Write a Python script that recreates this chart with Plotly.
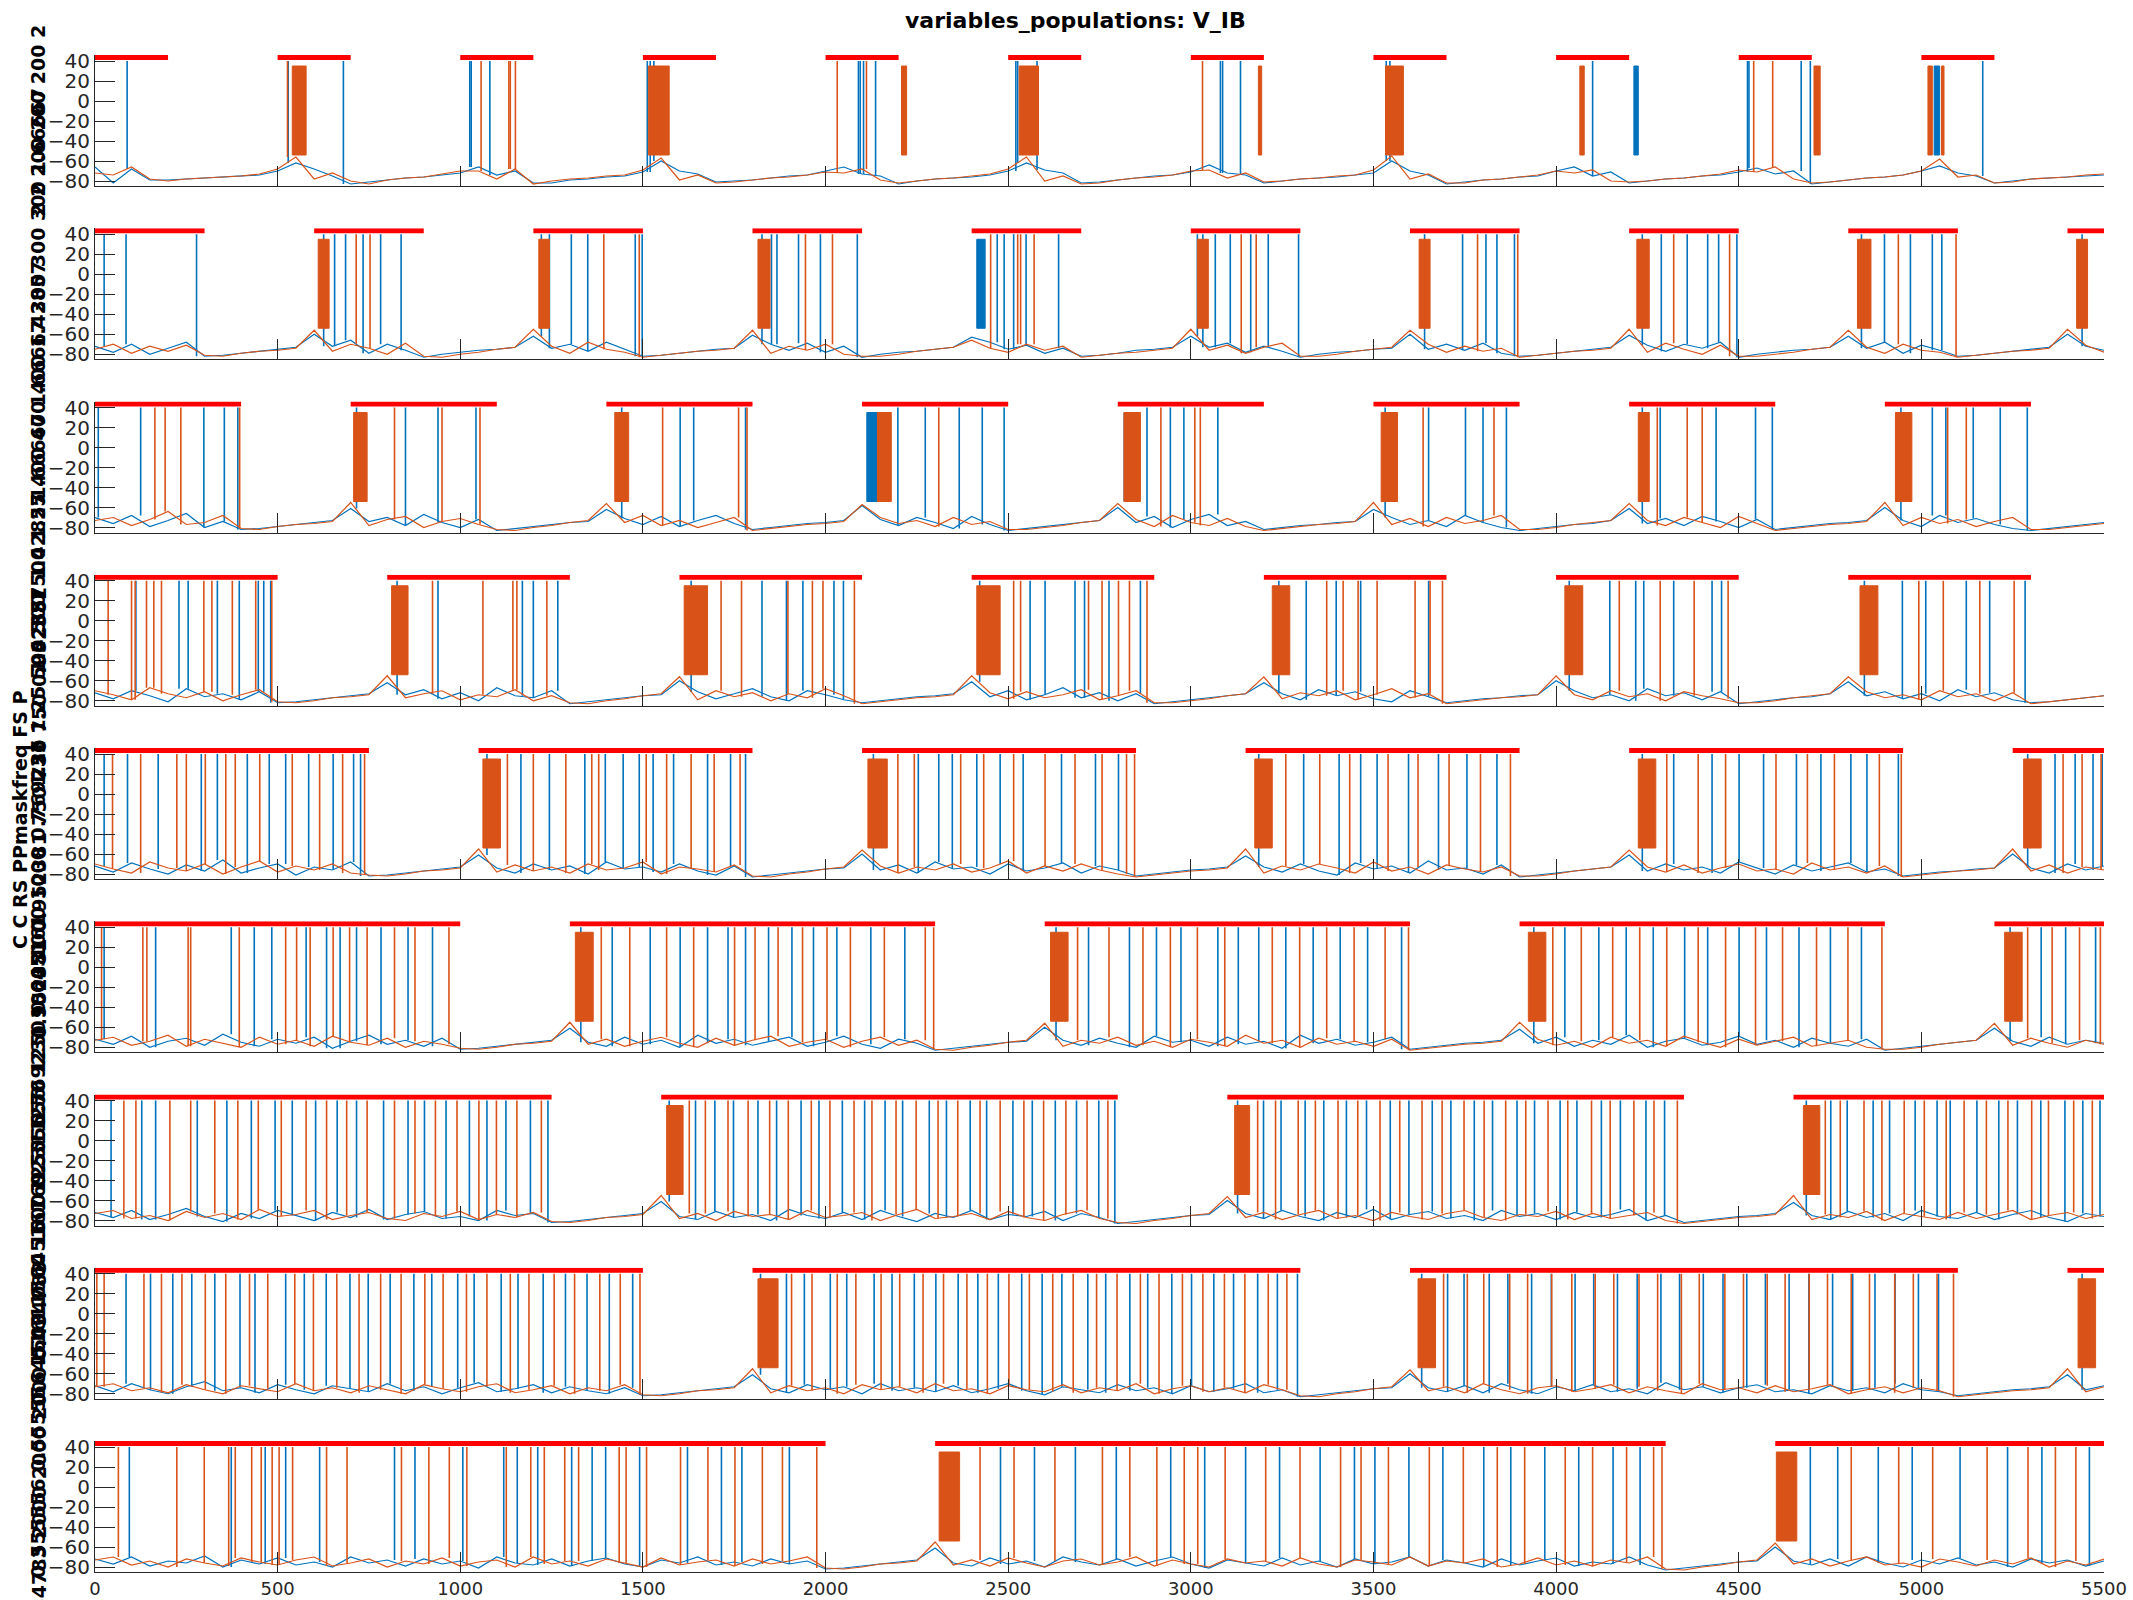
import plotly.graph_objects as go

# ---------------- data ----------------
STEP = 50            # sampling step of the baseline readings (ms)
T_MAX = 5500
SPIKE_PEAK = 40
BURST_LOW = -54
BURST_HIGH = 35
MASK_LEVEL = 43.5

X_TICKS = [0, 500, 1000, 1500, 2000, 2500, 3000, 3500, 4000, 4500, 5000, 5500]
Y_TICKS = [-80, -60, -40, -20, 0, 20, 40]

MASK_STARTS = [
    [0, 500, 1000, 1500, 2000, 2500, 3000, 3500, 4000, 4500, 5000],
    [0, 600, 1200, 1800, 2400, 3000, 3600, 4200, 4800, 5400],
    [0, 700, 1400, 2100, 2800, 3500, 4200, 4900],
    [0, 800, 1600, 2400, 3200, 4000, 4800],
    [0, 1050, 2100, 3150, 4200, 5250],
    [0, 1300, 2600, 3900, 5200],
    [0, 1550, 3100, 4650],
    [0, 1800, 3600, 5400],
    [0, 2300, 4600],
]
MASK_WIDTH = [200, 300, 400, 500, 750, 1000, 1250, 1500, 2000]

YLABEL_NAMES = "C C RS PPmaskfreq FS P"
YLABEL_VALUES = [
    "2 2 200 200 200 2",
    "1.66667 1.66667 300 300 300 1.66667",
    "1.42857 1.42857 400 400 400 1.42857",
    "1.25 1.25 500 500 500 1.25",
    "0.952381 0.952381 750 750 750 0.952381",
    "0.769231 0.769231 1000 1000 1000 0.769231",
    "0.645161 0.645161 1250 1250 1250 0.645161",
    "0.555556 0.555556 1500 1500 1500 0.555556",
    "0.434783 0.434783 2000 2000 2000 0.434783",
]

# baseline readings every 50 ms (t = 0 ... 5500)
BLUE_BASE_1 = [-66, -82, -68, -79, -79, -78, -77, -76, -75, -74,
               -70, -62, -68, -75, -83, -81, -79, -77, -76, -74,
               -72, -66, -74, -70, -82, -82, -79, -78, -76, -75,
               -71, -60, -70, -73, -81, -80, -79, -77, -75, -74,
               -70, -66, -73, -75, -83, -80, -78, -77, -76, -74,
               -70, -62, -69, -72, -82, -81, -79, -77, -75, -74,
               -71, -64, -72, -74, -82, -80, -78, -77, -76, -74,
               -72, -60, -70, -74, -83, -81, -79, -78, -76, -75,
               -70, -66, -75, -71, -82, -80, -78, -77, -75, -74,
               -71, -67, -73, -70, -83, -81, -79, -77, -76, -74,
               -70, -65, -72, -75, -82, -80, -78, -77, -76, -75, -74]
ORANGE_BASE_1 = [-72, -74, -66, -78, -80, -78, -77, -76, -75, -73,
                 -68, -56, -78, -72, -80, -83, -79, -77, -76, -73,
                 -70, -70, -78, -68, -83, -80, -78, -77, -75, -74,
                 -69, -57, -79, -74, -82, -81, -79, -77, -76, -74,
                 -71, -72, -68, -79, -82, -80, -78, -77, -75, -73,
                 -68, -56, -80, -75, -83, -82, -79, -77, -76, -74,
                 -70, -69, -77, -72, -81, -80, -78, -77, -75, -74,
                 -69, -55, -78, -73, -82, -82, -79, -78, -76, -74,
                 -70, -72, -69, -80, -81, -80, -78, -77, -75, -73,
                 -69, -71, -66, -78, -82, -81, -79, -77, -76, -74,
                 -70, -58, -76, -74, -82, -81, -78, -77, -76, -74, -73]

BLUE_BASE_2 = [-72, -78, -70, -80, -74, -68, -82, -81, -79, -77, -75, -73,
               -60, -72, -66, -79, -70, -76, -83, -80, -78, -76, -75, -73,
               -62, -74, -70, -77, -68, -75, -82, -81, -79, -77, -75, -74,
               -61, -70, -76, -69, -78, -72, -83, -80, -78, -77, -75, -73,
               -63, -68, -75, -71, -79, -74, -82, -81, -79, -76, -75, -73,
               -62, -73, -69, -78, -72, -77, -83, -80, -78, -77, -75, -74,
               -60, -75, -70, -76, -69, -79, -82, -81, -79, -77, -75, -73,
               -61, -71, -77, -70, -74, -68, -83, -80, -78, -76, -75, -73,
               -62, -74, -68, -79, -71, -76, -82, -81, -79, -77, -75, -73,
               -60, -72, -76]
ORANGE_BASE_2 = [-75, -70, -79, -72, -77, -71, -81, -82, -79, -77, -76, -74,
                 -56, -77, -70, -74, -80, -69, -82, -83, -80, -78, -75, -73,
                 -55, -72, -79, -68, -75, -78, -83, -81, -79, -77, -76, -74,
                 -56, -79, -72, -76, -70, -80, -82, -82, -80, -77, -75, -73,
                 -66, -74, -78, -70, -76, -72, -83, -81, -79, -78, -76, -74,
                 -55, -76, -71, -79, -73, -69, -82, -82, -80, -77, -75, -73,
                 -56, -70, -78, -72, -77, -74, -83, -81, -79, -77, -76, -74,
                 -55, -78, -69, -75, -80, -71, -82, -82, -80, -78, -75, -73,
                 -56, -73, -79, -70, -76, -78, -83, -81, -79, -77, -76, -74,
                 -55, -71, -78]

BLUE_BASE_3 = [-70, -76, -68, -79, -73, -66, -80, -74, -82, -81, -79, -77, -75, -73,
               -61, -74, -70, -78, -67, -75, -80, -72, -83, -81, -79, -77, -75, -74,
               -62, -71, -77, -69, -79, -73, -68, -76, -82, -80, -78, -76, -75, -73,
               -58, -72, -78, -70, -75, -81, -69, -77, -83, -81, -79, -77, -75, -73,
               -60, -75, -69, -80, -72, -67, -78, -74, -82, -80, -78, -77, -75, -74,
               -62, -70, -77, -73, -79, -68, -75, -80, -83, -81, -79, -77, -76, -73,
               -61, -76, -71, -78, -69, -74, -80, -72, -82, -80, -78, -76, -75, -73,
               -60, -73, -79, -68, -75, -71, -77, -81, -83, -81, -79, -77, -75]
ORANGE_BASE_3 = [-73, -70, -78, -72, -64, -77, -75, -68, -81, -82, -79, -77, -76, -74,
                 -55, -78, -72, -69, -80, -74, -71, -77, -82, -83, -80, -78, -75, -73,
                 -56, -75, -68, -78, -73, -80, -75, -70, -83, -81, -79, -77, -76, -74,
                 -57, -70, -76, -73, -79, -70, -77, -74, -82, -82, -80, -78, -75, -73,
                 -56, -72, -79, -68, -75, -78, -71, -79, -83, -81, -79, -77, -76, -74,
                 -55, -77, -71, -79, -70, -76, -73, -68, -82, -82, -80, -77, -75, -73,
                 -56, -73, -78, -70, -75, -80, -69, -76, -83, -81, -79, -77, -76, -74,
                 -55, -78, -70, -76, -72, -79, -74, -70, -82, -82, -80, -78, -76]

BLUE_BASE_4 = [-72, -78, -70, -75, -81, -68, -76, -73, -79, -71, -82, -81, -79, -77, -75, -73,
               -62, -74, -69, -78, -72, -80, -67, -75, -77, -70, -83, -81, -79, -77, -75, -74,
               -60, -71, -78, -73, -68, -76, -80, -70, -74, -79, -82, -80, -78, -76, -75, -73,
               -61, -76, -70, -79, -74, -67, -77, -72, -80, -73, -83, -81, -79, -77, -75, -73,
               -62, -73, -79, -69, -75, -71, -78, -81, -70, -76, -82, -80, -78, -77, -75, -74,
               -60, -70, -77, -74, -80, -68, -75, -72, -79, -71, -83, -81, -79, -77, -76, -73,
               -61, -75, -71, -78, -73, -80, -69, -76, -72, -79, -82, -81, -79, -77, -75]
ORANGE_BASE_4 = [-70, -74, -79, -67, -73, -77, -71, -80, -74, -69, -81, -82, -80, -77, -76, -74,
                 -55, -77, -73, -70, -79, -74, -76, -69, -80, -75, -82, -83, -80, -78, -75, -73,
                 -56, -79, -70, -76, -72, -80, -73, -77, -68, -75, -83, -81, -79, -77, -76, -74,
                 -55, -72, -78, -71, -77, -74, -69, -79, -75, -70, -82, -82, -80, -78, -75, -73,
                 -56, -78, -72, -75, -70, -79, -74, -68, -77, -73, -83, -81, -79, -77, -76, -74,
                 -55, -74, -79, -70, -76, -73, -80, -71, -75, -78, -82, -82, -80, -77, -75, -73,
                 -56, -71, -77, -74, -79, -70, -76, -73, -80, -72, -83, -81, -79, -77, -75]

BLUE_BASE_5 = [-72, -78, -69, -75, -80, -71, -77, -66, -79, -74, -70, -81, -73, -76, -68, -82, -81, -79, -77, -75, -73,
               -61, -74, -79, -70, -76, -72, -80, -68, -75, -73, -78, -70, -77, -81, -72, -83, -81, -79, -77, -75, -74,
               -60, -76, -71, -79, -68, -75, -73, -80, -70, -77, -74, -69, -79, -72, -76, -82, -80, -78, -76, -75, -73,
               -62, -73, -78, -70, -77, -81, -69, -75, -72, -79, -67, -76, -74, -80, -71, -83, -81, -79, -77, -75, -73,
               -61, -77, -70, -76, -73, -79, -68, -74, -80, -71, -77, -73, -69, -78, -75, -82, -80, -78, -77, -75, -74,
               -60, -74, -79, -70, -76, -72]
ORANGE_BASE_5 = [-70, -75, -79, -68, -74, -77, -70, -80, -73, -67, -78, -72, -76, -70, -79, -81, -82, -80, -77, -76, -74,
                 -55, -78, -71, -77, -73, -79, -70, -76, -74, -68, -80, -73, -75, -78, -71, -82, -83, -80, -78, -75, -73,
                 -56, -72, -79, -73, -76, -70, -78, -74, -67, -79, -72, -77, -70, -76, -80, -83, -81, -79, -77, -76, -74,
                 -55, -79, -72, -76, -70, -74, -79, -68, -77, -73, -80, -71, -75, -78, -73, -82, -82, -80, -77, -75, -73,
                 -56, -73, -78, -71, -79, -74, -70, -77, -75, -80, -69, -76, -73, -79, -72, -83, -81, -79, -77, -76, -74,
                 -55, -77, -71, -79, -73, -76]

BLUE_BASE_6 = [-72, -77, -69, -80, -74, -71, -78, -67, -75, -79, -72, -76, -70, -81, -74, -68, -77, -73, -79, -71, -82, -81, -79, -77, -75, -73,
               -61, -75, -79, -70, -77, -73, -80, -68, -76, -72, -78, -74, -70, -79, -75, -69, -77, -81, -72, -76, -83, -81, -79, -77, -75, -74,
               -60, -73, -78, -71, -76, -80, -69, -75, -73, -79, -70, -77, -74, -81, -68, -76, -72, -78, -75, -70, -82, -80, -78, -76, -75, -73,
               -62, -76, -70, -79, -73, -77, -68, -80, -74, -71, -78, -75, -69, -77, -73, -80, -71, -76, -79, -72, -83, -81, -79, -77, -75, -73,
               -61, -74, -79, -70, -77, -73, -76]
ORANGE_BASE_6 = [-73, -70, -78, -74, -68, -79, -72, -76, -80, -70, -77, -73, -79, -69, -75, -78, -71, -80, -74, -77, -81, -82, -80, -77, -76, -74,
                 -55, -77, -72, -79, -74, -70, -76, -80, -71, -78, -73, -69, -79, -75, -72, -80, -74, -70, -78, -73, -82, -83, -80, -78, -75, -73,
                 -56, -79, -73, -76, -70, -78, -74, -80, -72, -75, -79, -68, -76, -73, -80, -71, -77, -74, -79, -72, -83, -81, -79, -77, -76, -74,
                 -55, -72, -78, -74, -80, -70, -76, -73, -79, -69, -75, -80, -72, -78, -74, -70, -79, -76, -73, -80, -82, -82, -80, -77, -75, -73,
                 -56, -78, -71, -76, -80, -73, -77]

BLUE_BASE_7 = [-72, -77, -70, -79, -74, -68, -76, -81, -73, -78, -70, -75, -80, -72, -77, -69, -79, -74, -71, -78, -76, -80, -70, -75, -73, -82, -81, -79, -77, -75, -73,
               -61, -76, -79, -71, -77, -74, -80, -69, -75, -78, -72, -79, -70, -76, -81, -73, -77, -70, -79, -74, -76, -71, -80, -73, -77, -83, -81, -79, -77, -75, -74,
               -60, -73, -78, -70, -76, -80, -72, -77, -69, -79, -74, -71, -78, -75, -80, -70, -76, -73, -79, -72, -77, -74, -69, -80, -75, -82, -80, -78, -76, -75, -73,
               -62, -75, -79, -71, -77, -73, -80, -70, -76, -78, -72, -79, -74, -70, -77, -81, -73, -76]
ORANGE_BASE_7 = [-73, -70, -78, -75, -80, -71, -77, -73, -79, -69, -76, -74, -70, -79, -75, -72, -78, -80, -73, -76, -71, -79, -74, -77, -72, -81, -82, -80, -77, -76, -74,
                 -55, -78, -73, -80, -71, -76, -74, -79, -70, -77, -75, -72, -80, -74, -69, -78, -76, -73, -79, -71, -77, -80, -74, -70, -78, -82, -83, -80, -78, -75, -73,
                 -56, -77, -72, -79, -74, -70, -78, -75, -80, -72, -76, -79, -73, -70, -77, -80, -74, -76, -71, -79, -73, -78, -75, -72, -80, -83, -81, -79, -77, -76, -74,
                 -55, -79, -74, -77, -71, -80, -73, -76, -79, -72, -78, -74, -70, -79, -75, -72, -78, -74]

BLUE_BASE_8 = [-72, -78, -70, -76, -80, -73, -68, -77, -74, -79, -71, -76, -80, -72, -75, -78, -70, -77, -73, -80, -74, -69, -78, -75, -71, -79, -73, -77, -80, -74, -82, -81, -79, -77, -75, -73,
               -61, -75, -79, -71, -76, -73, -80, -70, -77, -74, -78, -72, -79, -75, -70, -77, -81, -73, -76, -79, -71, -77, -74, -80, -72, -78, -75, -70, -79, -76, -83, -81, -79, -77, -75, -74,
               -60, -74, -78, -72, -79, -70, -76, -80, -73, -77, -71, -78, -75, -80, -69, -76, -73, -79, -74, -71, -78, -76, -80, -72, -77, -74, -79, -70, -76, -78, -82, -80, -78, -76, -75, -73,
               -61, -76, -72]
ORANGE_BASE_8 = [-73, -70, -77, -74, -79, -71, -76, -80, -72, -75, -78, -70, -77, -74, -79, -72, -76, -80, -71, -75, -78, -73, -70, -79, -76, -72, -80, -74, -77, -71, -81, -82, -80, -77, -76, -74,
                 -55, -79, -72, -77, -74, -80, -71, -76, -73, -79, -70, -77, -75, -80, -72, -76, -78, -71, -79, -74, -77, -70, -80, -75, -72, -78, -74, -79, -71, -76, -82, -83, -80, -78, -75, -73,
                 -56, -77, -73, -79, -70, -76, -80, -74, -72, -78, -75, -71, -79, -73, -77, -80, -70, -76, -74, -79, -72, -78, -75, -71, -80, -76, -73, -79, -74, -77, -83, -81, -79, -77, -76, -74,
                 -55, -78, -73]

BLUE_BASE_9 = [-72, -77, -70, -79, -74, -76, -69, -80, -73, -77, -71, -78, -75, -80, -70, -76, -73, -79, -72, -77, -74, -81, -70, -76, -78, -72, -79, -74, -71, -77, -80, -73, -76, -70, -78, -75, -79, -72, -77, -74, -82, -81, -79, -77, -75, -73,
               -61, -76, -79, -71, -77, -74, -80, -70, -75, -78, -72, -79, -74, -70, -77, -81, -73, -76, -79, -71, -78, -74, -80, -72, -77, -75, -70, -79, -73, -76, -80, -72, -78, -74, -71, -79, -75, -77, -70, -78, -83, -81, -79, -77, -75, -74,
               -60, -74, -78, -72, -79, -70, -76, -80, -73, -77, -71, -78, -75, -80, -72, -76, -73, -79, -74]
ORANGE_BASE_9 = [-73, -70, -78, -74, -80, -72, -76, -79, -71, -75, -78, -73, -70, -79, -76, -72, -80, -74, -77, -71, -79, -75, -73, -80, -70, -77, -74, -79, -72, -76, -80, -71, -78, -75, -73, -79, -72, -77, -74, -70, -81, -82, -80, -77, -76, -74,
                 -55, -78, -73, -79, -71, -76, -80, -74, -72, -78, -75, -70, -79, -73, -77, -80, -72, -76, -74, -79, -71, -77, -80, -73, -75, -78, -70, -79, -74, -76, -72, -80, -77, -71, -78, -74, -79, -73, -76, -70, -82, -83, -80, -78, -75, -73,
                 -56, -77, -72, -79, -74, -70, -78, -76, -80, -72, -75, -79, -73, -77, -71, -80, -74, -78, -72]

BLUE_BASE = [BLUE_BASE_1, BLUE_BASE_2, BLUE_BASE_3, BLUE_BASE_4, BLUE_BASE_5,
             BLUE_BASE_6, BLUE_BASE_7, BLUE_BASE_8, BLUE_BASE_9]
ORANGE_BASE = [ORANGE_BASE_1, ORANGE_BASE_2, ORANGE_BASE_3, ORANGE_BASE_4, ORANGE_BASE_5,
               ORANGE_BASE_6, ORANGE_BASE_7, ORANGE_BASE_8, ORANGE_BASE_9]

# spike times (ms)
BLUE_SPIKES = [
    [88, 529, 680, 1026, 1030, 1081, 1512, 1520, 1530, 2090, 2095, 2104, 2137, 2521, 2526, 2579,
     3081, 3087, 3136, 3535, 3545, 4100, 4524, 4528, 4671, 4696, 5168],
    [25, 85, 278, 626, 656, 686, 734, 782, 838, 1222, 1244, 1304, 1349, 1479, 1498, 1826, 1852, 1867,
     1926, 1986, 2087, 2470, 2489, 2515, 2549, 2638, 3018, 3033, 3067, 3108, 3164, 3212, 3295, 3640,
     3744, 3808, 3838, 3886, 4236, 4288, 4359, 4415, 4445, 4495, 4836, 4899, 4970, 5030, 5056, 5440],
    [9, 125, 298, 354, 391, 716, 850, 939, 1043, 1442, 1602, 1639, 1781, 2198, 2273, 2366, 2429, 2489,
     2880, 2944, 2981, 3074, 3532, 3651, 3752, 3800, 3864, 4236, 4285, 4438, 4546, 4592, 4944, 5030,
     5067, 5142, 5216, 5290],
    [112, 230, 255, 335, 395, 447, 462, 481, 827, 939, 1170, 1200, 1267, 1632, 1826, 1893, 1938, 2023,
     2049, 2422, 2560, 2601, 2683, 2709, 2776, 2862, 3241, 3316, 3398, 3465, 3651, 4036, 4147, 4218,
     4240, 4322, 4427, 4453, 4844, 4948, 5012, 5123, 5187, 5284],
    [25, 89, 173, 291, 335, 417, 477, 522, 585, 652, 708, 727, 1073, 1166, 1244, 1341, 1397, 1446,
     1490, 1528, 1584, 1677, 1740, 1781, 2131, 2254, 2310, 2347, 2414, 2478, 2541, 2646, 2739, 2802,
     3186, 3309, 3406, 3465, 3510, 3596, 3678, 3756, 3838, 4236, 4322, 4427, 4501, 4568, 4658, 4725,
     4807, 4851, 4937, 5291, 5366, 5421, 5470, 5495],
    [25, 166, 373, 436, 484, 578, 634, 671, 716, 783, 857, 924, 1330, 1416, 1520, 1602, 1677, 1733,
     1781, 1844, 1908, 1967, 2031, 2124, 2217, 2631, 2720, 2832, 2906, 2973, 3074, 3130, 3186, 3260,
     3335, 3409, 3484, 3577, 3939, 4024, 4117, 4192, 4266, 4352, 4415, 4501, 4576, 4665, 4751, 4836,
     5243, 5328, 5395, 5477],
    [44, 128, 166, 280, 361, 428, 493, 540, 604, 663, 716, 790, 857, 902, 961, 1025, 1073, 1125, 1192,
     1240, 1572, 1644, 1697, 1748, 1815, 1866, 1933, 1982, 2046, 2107, 2163, 2211, 2284, 2331, 2396,
     2441, 2513, 2566, 2629, 2687, 2748, 2792, 3128, 3199, 3247, 3313, 3364, 3426, 3481, 3546, 3597,
     3661, 3712, 3776, 3826, 3893, 3941, 4011, 4057, 4124, 4176, 4246, 4297, 4685, 4752, 4797, 4868,
     4913, 4983, 5043, 5079, 5152, 5212, 5263, 5327, 5393, 5442, 5489],
    [85, 152, 213, 265, 328, 397, 438, 522, 573, 633, 698, 748, 808, 873, 922, 993, 1038, 1112, 1158,
     1227, 1288, 1347, 1408, 1472, 1822, 1893, 1942, 2013, 2058, 2133, 2182, 2243, 2302, 2363, 2417,
     2473, 2537, 2593, 2647, 2718, 2767, 2833, 2882, 2948, 3002, 3063, 3117, 3183, 3237, 3292, 3632,
     3703, 3748, 3817, 3868, 3933, 3987, 4052, 4103, 4168, 4222, 4287, 4338, 4403, 4457, 4522, 4573,
     4638, 4692, 4757, 4812, 4873, 4928, 4992, 5047, 5440],
    [94, 373, 466, 522, 615, 820, 876, 1007, 1119, 1156, 1212, 1305, 1361, 1398, 1491, 1622, 1715,
     1771, 1901, 2479, 2572, 2684, 2796, 2945, 3038, 3150, 3243, 3354, 3448, 3504, 3597, 3690, 3802,
     3876, 3969, 4062, 4156, 4230, 4696, 4771, 4882, 4975, 5106, 5236, 5330, 5460],
]
ORANGE_SPIKES = [
    [527, 1057, 1133, 1137, 1151, 2032, 2112, 3032, 4541, 4593],
    [715, 753, 1393, 1490, 1945, 2019, 2452, 2526, 2534, 2571, 3138, 3179, 3785, 3895, 4322, 4475,
     4937, 5095],
    [164, 192, 235, 396, 820, 950, 1054, 1554, 1762, 1785, 2310, 2918, 3011, 3026, 3636, 3830, 4277,
     4359, 4400, 5072, 5123],
    [36, 100, 110, 141, 161, 182, 298, 320, 376, 440, 484, 924, 1062, 1144, 1155, 1237, 1714, 1770,
     1897, 1964, 1993, 2079, 2515, 2534, 2720, 2757, 2802, 2832, 2880, 3372, 3417, 3458, 3510, 3614,
     3655, 3689, 4173, 4285, 4378, 4471, 4993, 5060, 5160, 5254],
    [48, 125, 224, 250, 302, 358, 384, 451, 540, 615, 678, 738, 1129, 1200, 1289, 1360, 1379, 1509,
     1565, 1632, 1695, 1766, 2198, 2243, 2370, 2433, 2515, 2601, 2683, 2757, 2824, 2846, 3260, 3353,
     3435, 3540, 3622, 3707, 3793, 3875, 4303, 4389, 4464, 4602, 4688, 4762, 4885, 4945, 5388, 5440,
     5492],
    [18, 131, 142, 255, 262, 395, 522, 552, 589, 652, 697, 745, 820, 876, 969, 1386, 1464, 1565, 1639,
     1751, 1807, 1870, 1937, 2004, 2068, 2161, 2273, 2296, 2690, 2776, 2869, 2944, 3018, 3093, 3223,
     3298, 3372, 3447, 3532, 3596, 3991, 4069, 4155, 4229, 4303, 4389, 4464, 4546, 4620, 4713, 4799,
     4892, 5291, 5358, 5433, 5490],
    [79, 112, 205, 262, 328, 391, 447, 510, 578, 634, 689, 745, 820, 876, 932, 991, 1051, 1099, 1155,
     1222, 1627, 1671, 1733, 1788, 1847, 1898, 1961, 2012, 2078, 2127, 2193, 2248, 2308, 2362, 2423,
     2478, 2543, 2597, 2658, 2716, 2773, 3183, 3232, 3294, 3341, 3403, 3457, 3518, 3572, 3633, 3688,
     3748, 3803, 3862, 3917, 3978, 4032, 4097, 4148, 4213, 4268, 4332, 4737, 4778, 4843, 4892, 4953,
     5008, 5068, 5117, 5178, 5237, 5302, 5348, 5417, 5468],
    [5, 25, 134, 182, 238, 302, 358, 423, 473, 547, 598, 662, 723, 782, 838, 903, 953, 1017, 1073,
     1137, 1188, 1257, 1313, 1382, 1438, 1492, 1907, 1963, 2032, 2083, 2152, 2203, 2267, 2323, 2387,
     2443, 2502, 2558, 2622, 2678, 2742, 2798, 2862, 2913, 2977, 3033, 3092, 3148, 3212, 3263, 3692,
     3757, 3802, 3873, 3922, 3988, 4043, 4107, 4158, 4227, 4278, 4343, 4392, 4462, 4513, 4578, 4627,
     4693, 4743, 4808, 4858, 4927, 4978, 5043, 5088],
    [64, 224, 299, 366, 384, 429, 455, 485, 504, 541, 634, 690, 839, 914, 970, 1018, 1126, 1193, 1230,
     1286, 1324, 1435, 1454, 1510, 1603, 1678, 1752, 1827, 1882, 1976, 2423, 2516, 2628, 2758, 2833,
     2907, 2982, 3019, 3094, 3205, 3299, 3410, 3466, 3541, 3653, 3746, 3839, 3914, 4025, 4100, 4193,
     4267, 4290, 4808, 4938, 5031, 5180, 5292, 5367, 5423],
]

# burst intervals (start, end) in ms
BLUE_BURSTS = [
    [[4213, 4225], [5035, 5050]],
    [[2414, 2437]],
    [[2113, 2142], [2817, 2847]],
    [], [], [], [], [], [],
]
ORANGE_BURSTS = [
    [[540, 578], [1515, 1572], [2208, 2222], [2530, 2583], [3185, 3194], [3533, 3582],
     [4065, 4077], [4706, 4723], [5018, 5030], [5055, 5062]],
    [[611, 641], [1215, 1244], [1815, 1848], [3018, 3048], [3625, 3655], [4221, 4255],
     [4825, 4862], [5425, 5455]],
    [[708, 745], [1423, 1461], [2142, 2180], [2817, 2862], [3521, 3566], [4225, 4255], [4929, 4974]],
    [[812, 857], [1613, 1677], [2414, 2478], [3223, 3271], [4024, 4073], [4832, 4881]],
    [[1062, 1110], [2116, 2169], [3175, 3223], [4225, 4273], [5280, 5328]],
    [[1315, 1364], [2616, 2664], [3924, 3972], [5228, 5276]],
    [[1565, 1610], [3120, 3161], [4677, 4722]],
    [[1815, 1870], [3622, 3670], [5429, 5477]],
    [[2311, 2367], [4603, 4659]],
]

# ---------------- figure ----------------
BLUE = "#0072BD"
ORANGE = "#D95319"
RED = "#FF0000"
AXIS_COLOR = "#262626"
FONT = "DejaVu Sans"

W, H = 2133, 1600
PLOT_L, PLOT_R = 95, 2104
PLOT_T, PLOT_B = 55, 1572
PANEL_H = 131
PITCH = (PLOT_B - PLOT_T - PANEL_H) / 8.0
N = 9

fig = go.Figure()


def add_series(base, spikes, bursts, color, xa, ya):
    xs = [i * STEP for i in range(len(base))]
    fig.add_trace(go.Scatter(x=xs, y=base, mode="lines", line=dict(color=color, width=1.2),
                             xaxis=xa, yaxis=ya, hoverinfo="skip", showlegend=False))
    sx, sy = [], []
    for t in spikes:
        idx = min(len(base) - 1, max(0, int(round(t / STEP))))
        sx += [t, t, None]
        sy += [base[idx], SPIKE_PEAK, None]
    if sx:
        fig.add_trace(go.Scatter(x=sx, y=sy, mode="lines", line=dict(color=color, width=1.6),
                                 xaxis=xa, yaxis=ya, hoverinfo="skip", showlegend=False))
    for s, e in bursts:
        fig.add_trace(go.Scatter(x=[s, s, e, e, s], y=[BURST_LOW, BURST_HIGH, BURST_HIGH, BURST_LOW, BURST_LOW],
                                 mode="lines", fill="toself", fillcolor=color,
                                 line=dict(color=color, width=1),
                                 xaxis=xa, yaxis=ya, hoverinfo="skip", showlegend=False))


layout_axes = {}
annotations = []
for k in range(N):
    suffix = "" if k == 0 else str(k + 1)
    xa, ya = "x" + suffix, "y" + suffix
    top_px = PLOT_T + k * PITCH
    bot_px = top_px + PANEL_H
    dom = [(PLOT_B - bot_px) / (PLOT_B - PLOT_T), (PLOT_B - top_px) / (PLOT_B - PLOT_T)]

    add_series(BLUE_BASE[k], BLUE_SPIKES[k], BLUE_BURSTS[k], BLUE, xa, ya)
    add_series(ORANGE_BASE[k], ORANGE_SPIKES[k], ORANGE_BURSTS[k], ORANGE, xa, ya)

    mx, my = [], []
    for s in MASK_STARTS[k]:
        mx += [s, min(s + MASK_WIDTH[k], T_MAX), None]
        my += [MASK_LEVEL, MASK_LEVEL, None]
    fig.add_trace(go.Scatter(x=mx, y=my, mode="lines", line=dict(color=RED, width=5),
                             xaxis=xa, yaxis=ya, hoverinfo="skip", showlegend=False))

    layout_axes["xaxis" + suffix] = dict(
        domain=[0, 1], anchor=ya, range=[0, T_MAX], tickvals=X_TICKS,
        showticklabels=(k == N - 1), ticks="inside", ticklen=20, tickwidth=1,
        tickcolor=AXIS_COLOR, showline=True, linecolor=AXIS_COLOR, linewidth=1,
        showgrid=False, zeroline=False,
        tickfont=dict(family=FONT, size=18, color=AXIS_COLOR))
    layout_axes["yaxis" + suffix] = dict(
        domain=dom, anchor=xa, range=[-85, 46], tickvals=Y_TICKS,
        ticks="inside", ticklen=20, tickwidth=1, tickcolor=AXIS_COLOR,
        showline=True, linecolor=AXIS_COLOR, linewidth=1,
        showgrid=False, zeroline=False,
        tickfont=dict(family=FONT, size=20, color=AXIS_COLOR))

    center_px = (top_px + bot_px) / 2.0
    annotations.append(dict(
        text="<b>" + YLABEL_VALUES[k] + "</b>", xref="paper", yref="paper",
        x=(38 - PLOT_L) / (PLOT_R - PLOT_L), y=(PLOT_B - center_px) / (PLOT_B - PLOT_T),
        xanchor="center", yanchor="middle", textangle=-90, showarrow=False,
        font=dict(family=FONT, size=19, color="black")))
    if k == 4:
        annotations.append(dict(
            text="<b>" + YLABEL_NAMES + "</b>", xref="paper", yref="paper",
            x=(20 - PLOT_L) / (PLOT_R - PLOT_L), y=(PLOT_B - 820) / (PLOT_B - PLOT_T),
            xanchor="center", yanchor="middle", textangle=-90, showarrow=False,
            font=dict(family=FONT, size=19, color="black")))

annotations.append(dict(
    text="<b>variables_populations: V_IB</b>", xref="paper", yref="paper",
    x=(1075 - PLOT_L) / (PLOT_R - PLOT_L), y=(PLOT_B - 20) / (PLOT_B - PLOT_T),
    xanchor="center", yanchor="middle", showarrow=False,
    font=dict(family=FONT, size=22, color="black")))

fig.update_layout(
    width=W, height=H, autosize=False,
    margin=dict(l=PLOT_L, r=W - PLOT_R, t=PLOT_T, b=H - PLOT_B, autoexpand=False),
    paper_bgcolor="white", plot_bgcolor="white",
    showlegend=False, annotations=annotations,
    **layout_axes)

fig.write_html("out.html")
